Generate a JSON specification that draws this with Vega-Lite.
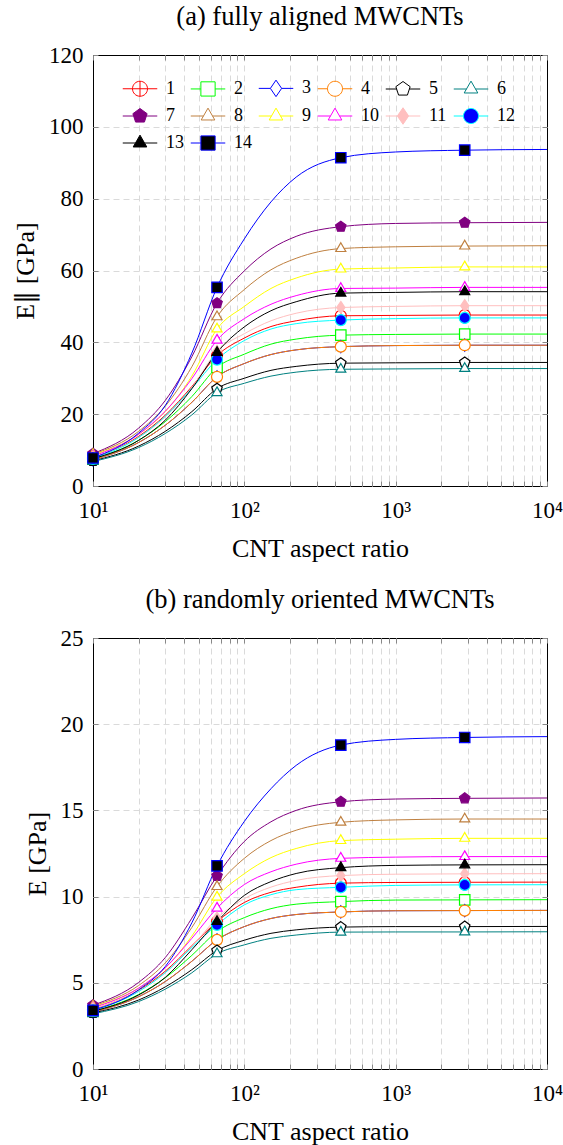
{
  "$schema": "https://vega.github.io/schema/vega-lite/v6.json",
  "background": "white",
  "padding": {"left": 12, "top": 3, "right": 14, "bottom": 0},
  "config": {
    "font": "Liberation Serif",
    "view": {"stroke": "black", "strokeWidth": 1},
    "axis": {"labelFont": "Liberation Serif", "titleFont": "Liberation Serif", "labelFontSize": 23, "titleFontSize": 26, "titleFontWeight": "normal", "labelColor": "black", "titleColor": "black", "domain": false, "tickColor": "#888888", "tickSize": -5, "gridDash": [6, 4], "gridColor": "#dadada", "gridWidth": 1},
    "title": {"font": "Liberation Serif", "fontSize": 26.5, "fontWeight": "normal", "color": "black"}
  },
  "datasets": {
    "a": [
      {"s":1,"x":10,"y":7.8},{"s":1,"x":20,"y":13.8},{"s":1,"x":30,"y":19.7},{"s":1,"x":45,"y":27.7},{"s":1,"x":66,"y":36.3},{"s":1,"x":100,"y":41.2},{"s":1,"x":150,"y":44.4},{"s":1,"x":220,"y":46.0},{"s":1,"x":434,"y":47.4},{"s":1,"x":1000,"y":47.5},{"s":1,"x":2860,"y":47.6},{"s":1,"x":10000,"y":47.6},
      {"s":2,"x":10,"y":7.5},{"s":2,"x":20,"y":12.7},{"s":2,"x":30,"y":17.9},{"s":2,"x":45,"y":24.9},{"s":2,"x":66,"y":33.0},{"s":2,"x":100,"y":36.7},{"s":2,"x":150,"y":39.5},{"s":2,"x":220,"y":40.9},{"s":2,"x":434,"y":42.0},{"s":2,"x":1000,"y":42.2},{"s":2,"x":2860,"y":42.3},{"s":2,"x":10000,"y":42.3},
      {"s":3,"x":10,"y":7.3},{"s":3,"x":20,"y":12.1},{"s":3,"x":30,"y":16.9},{"s":3,"x":45,"y":23.3},{"s":3,"x":66,"y":30.4},{"s":3,"x":100,"y":34.1},{"s":3,"x":150,"y":36.6},{"s":3,"x":220,"y":37.9},{"s":3,"x":434,"y":38.8},{"s":3,"x":1000,"y":39.1},{"s":3,"x":2860,"y":39.2},{"s":3,"x":10000,"y":39.2},
      {"s":4,"x":10,"y":7.3},{"s":4,"x":20,"y":12.1},{"s":4,"x":30,"y":16.9},{"s":4,"x":45,"y":23.3},{"s":4,"x":66,"y":30.4},{"s":4,"x":100,"y":34.1},{"s":4,"x":150,"y":36.6},{"s":4,"x":220,"y":37.9},{"s":4,"x":434,"y":38.8},{"s":4,"x":1000,"y":39.1},{"s":4,"x":2860,"y":39.2},{"s":4,"x":10000,"y":39.2},
      {"s":5,"x":10,"y":7.0},{"s":5,"x":20,"y":11.1},{"s":5,"x":30,"y":15.2},{"s":5,"x":45,"y":20.7},{"s":5,"x":66,"y":27.1},{"s":5,"x":100,"y":30.0},{"s":5,"x":150,"y":32.2},{"s":5,"x":220,"y":33.3},{"s":5,"x":434,"y":34.2},{"s":5,"x":1000,"y":34.3},{"s":5,"x":2860,"y":34.4},{"s":5,"x":10000,"y":34.4},
      {"s":6,"x":10,"y":6.8},{"s":6,"x":20,"y":10.7},{"s":6,"x":30,"y":14.6},{"s":6,"x":45,"y":19.8},{"s":6,"x":66,"y":26.0},{"s":6,"x":100,"y":28.6},{"s":6,"x":150,"y":30.6},{"s":6,"x":220,"y":31.7},{"s":6,"x":434,"y":32.5},{"s":6,"x":1000,"y":32.6},{"s":6,"x":2860,"y":32.7},{"s":6,"x":10000,"y":32.7},
      {"s":7,"x":10,"y":9.0},{"s":7,"x":20,"y":16.1},{"s":7,"x":30,"y":23.8},{"s":7,"x":45,"y":36.0},{"s":7,"x":66,"y":50.9},{"s":7,"x":100,"y":59.9},{"s":7,"x":150,"y":66.0},{"s":7,"x":220,"y":69.5},{"s":7,"x":434,"y":72.2},{"s":7,"x":1000,"y":73.1},{"s":7,"x":2860,"y":73.3},{"s":7,"x":10000,"y":73.4},
      {"s":8,"x":10,"y":8.8},{"s":8,"x":20,"y":15.2},{"s":8,"x":30,"y":22.2},{"s":8,"x":45,"y":33.2},{"s":8,"x":66,"y":47.1},{"s":8,"x":100,"y":54.7},{"s":8,"x":150,"y":60.2},{"s":8,"x":220,"y":63.4},{"s":8,"x":434,"y":66.1},{"s":8,"x":1000,"y":66.6},{"s":8,"x":2860,"y":66.8},{"s":8,"x":10000,"y":66.9},
      {"s":9,"x":10,"y":8.6},{"s":9,"x":20,"y":14.4},{"s":9,"x":30,"y":20.7},{"s":9,"x":45,"y":30.6},{"s":9,"x":66,"y":43.7},{"s":9,"x":100,"y":50.0},{"s":9,"x":150,"y":55.0},{"s":9,"x":220,"y":57.9},{"s":9,"x":434,"y":60.4},{"s":9,"x":1000,"y":60.7},{"s":9,"x":2860,"y":61.0},{"s":9,"x":10000,"y":61.0},
      {"s":10,"x":10,"y":8.3},{"s":10,"x":20,"y":14.4},{"s":10,"x":30,"y":20.8},{"s":10,"x":45,"y":29.9},{"s":10,"x":66,"y":40.6},{"s":10,"x":100,"y":46.6},{"s":10,"x":150,"y":50.6},{"s":10,"x":220,"y":53.0},{"s":10,"x":434,"y":55.0},{"s":10,"x":1000,"y":55.1},{"s":10,"x":2860,"y":55.3},{"s":10,"x":10000,"y":55.3},
      {"s":11,"x":10,"y":8.0},{"s":11,"x":20,"y":13.5},{"s":11,"x":30,"y":19.2},{"s":11,"x":45,"y":27.4},{"s":11,"x":66,"y":37.5},{"s":11,"x":100,"y":42.4},{"s":11,"x":150,"y":46.0},{"s":11,"x":220,"y":48.1},{"s":11,"x":434,"y":49.7},{"s":11,"x":1000,"y":50.0},{"s":11,"x":2860,"y":50.2},{"s":11,"x":10000,"y":50.2},
      {"s":12,"x":10,"y":7.6},{"s":12,"x":20,"y":13.5},{"s":12,"x":30,"y":19.4},{"s":12,"x":45,"y":27.2},{"s":12,"x":66,"y":35.2},{"s":12,"x":100,"y":40.5},{"s":12,"x":150,"y":43.7},{"s":12,"x":220,"y":45.2},{"s":12,"x":434,"y":46.2},{"s":12,"x":1000,"y":46.6},{"s":12,"x":2860,"y":46.8},{"s":12,"x":10000,"y":46.8},
      {"s":13,"x":10,"y":7.6},{"s":13,"x":20,"y":12.7},{"s":13,"x":30,"y":18.3},{"s":13,"x":45,"y":27.1},{"s":13,"x":66,"y":37.2},{"s":13,"x":100,"y":44.3},{"s":13,"x":150,"y":48.8},{"s":13,"x":220,"y":51.3},{"s":13,"x":434,"y":53.7},{"s":13,"x":1000,"y":53.9},{"s":13,"x":2860,"y":54.1},{"s":13,"x":10000,"y":54.1},
      {"s":14,"x":10,"y":7.8},{"s":14,"x":20,"y":14.7},{"s":14,"x":30,"y":22.4},{"s":14,"x":45,"y":37.0},{"s":14,"x":66,"y":55.3},{"s":14,"x":100,"y":68.8},{"s":14,"x":150,"y":79.1},{"s":14,"x":220,"y":86.0},{"s":14,"x":434,"y":91.4},{"s":14,"x":1000,"y":93.0},{"s":14,"x":2860,"y":93.5},{"s":14,"x":10000,"y":93.7}
    ],
    "b": [
      {"s":1,"x":10,"y":3.45},{"s":1,"x":20,"y":4.56},{"s":1,"x":30,"y":5.67},{"s":1,"x":45,"y":7.15},{"s":1,"x":66,"y":8.55},{"s":1,"x":100,"y":9.66},{"s":1,"x":150,"y":10.25},{"s":1,"x":220,"y":10.54},{"s":1,"x":434,"y":10.78},{"s":1,"x":1000,"y":10.82},{"s":1,"x":2860,"y":10.83},{"s":1,"x":10000,"y":10.84},
      {"s":2,"x":10,"y":3.35},{"s":2,"x":20,"y":4.32},{"s":2,"x":30,"y":5.29},{"s":2,"x":45,"y":6.59},{"s":2,"x":66,"y":7.97},{"s":2,"x":100,"y":8.78},{"s":2,"x":150,"y":9.30},{"s":2,"x":220,"y":9.56},{"s":2,"x":434,"y":9.71},{"s":2,"x":1000,"y":9.80},{"s":2,"x":2860,"y":9.81},{"s":2,"x":10000,"y":9.82},
      {"s":3,"x":10,"y":3.3},{"s":3,"x":20,"y":4.19},{"s":3,"x":30,"y":5.07},{"s":3,"x":45,"y":6.25},{"s":3,"x":66,"y":7.49},{"s":3,"x":100,"y":8.26},{"s":3,"x":150,"y":8.73},{"s":3,"x":220,"y":8.96},{"s":3,"x":434,"y":9.11},{"s":3,"x":1000,"y":9.18},{"s":3,"x":2860,"y":9.19},{"s":3,"x":10000,"y":9.2},
      {"s":4,"x":10,"y":3.3},{"s":4,"x":20,"y":4.19},{"s":4,"x":30,"y":5.07},{"s":4,"x":45,"y":6.25},{"s":4,"x":66,"y":7.49},{"s":4,"x":100,"y":8.26},{"s":4,"x":150,"y":8.73},{"s":4,"x":220,"y":8.96},{"s":4,"x":434,"y":9.11},{"s":4,"x":1000,"y":9.18},{"s":4,"x":2860,"y":9.19},{"s":4,"x":10000,"y":9.2},
      {"s":5,"x":10,"y":3.25},{"s":5,"x":20,"y":4.00},{"s":5,"x":30,"y":4.76},{"s":5,"x":45,"y":5.76},{"s":5,"x":66,"y":6.87},{"s":5,"x":100,"y":7.47},{"s":5,"x":150,"y":7.87},{"s":5,"x":220,"y":8.07},{"s":5,"x":434,"y":8.23},{"s":5,"x":1000,"y":8.26},{"s":5,"x":2860,"y":8.26},{"s":5,"x":10000,"y":8.27},
      {"s":6,"x":10,"y":3.2},{"s":6,"x":20,"y":3.91},{"s":6,"x":30,"y":4.63},{"s":6,"x":45,"y":5.58},{"s":6,"x":66,"y":6.68},{"s":6,"x":100,"y":7.20},{"s":6,"x":150,"y":7.58},{"s":6,"x":220,"y":7.77},{"s":6,"x":434,"y":7.94},{"s":6,"x":1000,"y":7.95},{"s":6,"x":2860,"y":7.95},{"s":6,"x":10000,"y":7.96},
      {"s":7,"x":10,"y":3.7},{"s":7,"x":20,"y":5.02},{"s":7,"x":30,"y":6.46},{"s":7,"x":45,"y":8.75},{"s":7,"x":66,"y":11.2},{"s":7,"x":100,"y":13.20},{"s":7,"x":150,"y":14.34},{"s":7,"x":220,"y":15.00},{"s":7,"x":434,"y":15.50},{"s":7,"x":1000,"y":15.66},{"s":7,"x":2860,"y":15.70},{"s":7,"x":10000,"y":15.72},
      {"s":8,"x":10,"y":3.65},{"s":8,"x":20,"y":4.84},{"s":8,"x":30,"y":6.15},{"s":8,"x":45,"y":8.21},{"s":8,"x":66,"y":10.58},{"s":8,"x":100,"y":12.22},{"s":8,"x":150,"y":13.25},{"s":8,"x":220,"y":13.85},{"s":8,"x":434,"y":14.31},{"s":8,"x":1000,"y":14.45},{"s":8,"x":2860,"y":14.50},{"s":8,"x":10000,"y":14.50},
      {"s":9,"x":10,"y":3.6},{"s":9,"x":20,"y":4.68},{"s":9,"x":30,"y":5.85},{"s":9,"x":45,"y":7.71},{"s":9,"x":66,"y":9.97},{"s":9,"x":100,"y":11.33},{"s":9,"x":150,"y":12.26},{"s":9,"x":220,"y":12.79},{"s":9,"x":434,"y":13.25},{"s":9,"x":1000,"y":13.33},{"s":9,"x":2860,"y":13.38},{"s":9,"x":10000,"y":13.38},
      {"s":10,"x":10,"y":3.55},{"s":10,"x":20,"y":4.69},{"s":10,"x":30,"y":5.87},{"s":10,"x":45,"y":7.58},{"s":10,"x":66,"y":9.33},{"s":10,"x":100,"y":10.70},{"s":10,"x":150,"y":11.44},{"s":10,"x":220,"y":11.88},{"s":10,"x":434,"y":12.22},{"s":10,"x":1000,"y":12.29},{"s":10,"x":2860,"y":12.32},{"s":10,"x":10000,"y":12.32},
      {"s":11,"x":10,"y":3.5},{"s":11,"x":20,"y":4.52},{"s":11,"x":30,"y":5.57},{"s":11,"x":45,"y":7.10},{"s":11,"x":66,"y":8.75},{"s":11,"x":100,"y":9.88},{"s":11,"x":150,"y":10.55},{"s":11,"x":220,"y":10.94},{"s":11,"x":434,"y":11.22},{"s":11,"x":1000,"y":11.30},{"s":11,"x":2860,"y":11.32},{"s":11,"x":10000,"y":11.33},
      {"s":12,"x":10,"y":3.4},{"s":12,"x":20,"y":4.49},{"s":12,"x":30,"y":5.59},{"s":12,"x":45,"y":7.05},{"s":12,"x":66,"y":8.36},{"s":12,"x":100,"y":9.52},{"s":12,"x":150,"y":10.11},{"s":12,"x":220,"y":10.40},{"s":12,"x":434,"y":10.54},{"s":12,"x":1000,"y":10.65},{"s":12,"x":2860,"y":10.68},{"s":12,"x":10000,"y":10.69},
      {"s":13,"x":10,"y":3.35},{"s":13,"x":20,"y":4.29},{"s":13,"x":30,"y":5.31},{"s":13,"x":45,"y":6.92},{"s":13,"x":66,"y":8.55},{"s":13,"x":100,"y":10.07},{"s":13,"x":150,"y":10.87},{"s":13,"x":220,"y":11.34},{"s":13,"x":434,"y":11.68},{"s":13,"x":1000,"y":11.81},{"s":13,"x":2860,"y":11.84},{"s":13,"x":10000,"y":11.85},
      {"s":14,"x":10,"y":3.4},{"s":14,"x":20,"y":4.59},{"s":14,"x":30,"y":5.94},{"s":14,"x":45,"y":8.48},{"s":14,"x":66,"y":11.78},{"s":14,"x":100,"y":14.36},{"s":14,"x":150,"y":16.26},{"s":14,"x":220,"y":17.61},{"s":14,"x":434,"y":18.79},{"s":14,"x":1000,"y":19.12},{"s":14,"x":2860,"y":19.23},{"s":14,"x":10000,"y":19.28}
    ]
  },
  "vconcat": [
    {
      "width": 454,
      "height": 431,
      "title": {"text": "(a) fully aligned MWCNTs", "offset": 14},
      "data": {"name": "a"},
      "resolve": {"scale": {"stroke": "independent", "fill": "independent", "shape": "independent"}, "axis": {"x": "independent", "y": "independent"}},
      "layer": [
        {
          "mark": {"type": "line", "interpolate": "monotone", "strokeWidth": 1, "clip": true},
          "encoding": {
            "x": {"field": "x", "type": "quantitative", "scale": {"type": "log", "domain": [10, 10000], "nice": false},
              "axis": {"orient": "bottom", "values": [10,20,30,40,50,60,70,80,90,100,200,300,400,500,600,700,800,900,1000,2000,3000,4000,5000,6000,7000,8000,9000,10000], "labelExpr": "datum.value==10?'10\u00b9':datum.value==100?'10\u00b2':datum.value==1000?'10\u00b3':datum.value==10000?'10\u2074':''", "labelFlush": false, "labelOverlap": false, "labelPadding": 18, "title": "CNT aspect ratio", "titlePadding": 13, "grid": true, "gridOpacity": {"condition": {"test": "datum.value==10||datum.value==10000", "value": 0}, "value": 1}}},
            "y": {"field": "y", "type": "quantitative", "scale": {"domain": [0, 120], "nice": false},
              "axis": {"orient": "left", "values": [0,20,40,60,80,100,120], "labelPadding": 15, "title": "E\u2225 [GPa]", "titlePadding": 10, "grid": true, "gridOpacity": {"condition": {"test": "datum.value==0||datum.value==120", "value": 0}, "value": 1}}},
            "stroke": {"field": "s", "type": "nominal", "legend": null,
              "scale": {"domain": [1,2,3,4,5,6,7,8,9,10,11,12,13,14], "range": ["#ff0000","#00ff00","#0000ff","#ff8000","#000000","#008080","#800080","#bf8040","#ffff00","#ff00ff","#ffbfbf","#00ffff","#000000","#0000ff"]}},
            "detail": {"field": "s", "type": "nominal"}
          }
        },
        {
          "transform": [{"filter": {"field": "x", "oneOf": [10, 66, 434, 2860]}}],
          "mark": {"type": "point", "opacity": 1, "strokeWidth": 1.2, "size": 121},
          "encoding": {
            "x": {"field": "x", "type": "quantitative", "scale": {"type": "log", "domain": [10, 10000], "nice": false},
              "axis": {"orient": "top", "values": [10,20,30,40,50,60,70,80,90,100,200,300,400,500,600,700,800,900,1000,2000,3000,4000,5000,6000,7000,8000,9000,10000], "labels": false, "title": null, "grid": false}},
            "y": {"field": "y", "type": "quantitative", "scale": {"domain": [0, 120], "nice": false},
              "axis": {"orient": "right", "values": [0,20,40,60,80,100,120], "labels": false, "title": null, "grid": false}},
            "stroke": {"field": "s", "type": "nominal", "legend": null,
              "scale": {"domain": [1,2,3,4,5,6,7,8,9,10,11,12,13,14], "range": ["#ff0000","#00ff00","#0000ff","#ff8000","#000000","#008080","#800080","#bf8040","#ffff00","#ff00ff","#ffbfbf","#00ffff","#000000","#0000ff"]}},
            "fill": {"field": "s", "type": "nominal", "legend": null,
              "scale": {"domain": [1,2,3,4,5,6,7,8,9,10,11,12,13,14], "range": ["#ffffff","#ffffff","#ffffff","#ffffff","#ffffff","#ffffff","#800080","#ffffff","#ffffff","#ffffff","#ffbfbf","#0000ff","#000000","#000000"]}},
            "shape": {"field": "s", "type": "nominal", "legend": null,
              "scale": {"domain": [1,2,3,4,5,6,7,8,9,10,11,12,13,14], "range": [
                "M1,0A1,1,0,1,1,-1,0A1,1,0,1,1,1,0ZM-1,0H1M0,-1V1",
                "M-0.95,-0.95H0.95V0.95H-0.95Z",
                "M0,-1.1L0.75,0L0,1.1L-0.75,0Z",
                "M1,0A1,1,0,1,1,-1,0A1,1,0,1,1,1,0Z",
                "M0,-1L0.951,-0.309L0.588,0.809L-0.588,0.809L-0.951,-0.309Z",
                "M0,-1.05L0.91,0.53L-0.91,0.53Z",
                "M0,-1L0.951,-0.309L0.588,0.809L-0.588,0.809L-0.951,-0.309Z",
                "M0,-1.05L0.91,0.53L-0.91,0.53Z",
                "M0,-1.05L0.91,0.53L-0.91,0.53Z",
                "M0,-1.05L0.91,0.53L-0.91,0.53Z",
                "M0,-1.1L0.75,0L0,1.1L-0.75,0Z",
                "M1,0A1,1,0,1,1,-1,0A1,1,0,1,1,1,0Z",
                "M0,-1.05L0.91,0.53L-0.91,0.53Z",
                "M-0.95,-0.95H0.95V0.95H-0.95Z"]}}
          }
        },
        {
          "transform": [{"filter": "datum.s < 0"}],
          "mark": {"type": "point", "opacity": 1, "strokeWidth": 1},
          "encoding": {
            "x": {"field": "x", "type": "quantitative", "scale": {"type": "log", "domain": [10, 10000], "nice": false}, "axis": null},
            "y": {"field": "y", "type": "quantitative", "scale": {"domain": [0, 120], "nice": false}, "axis": null},
            "stroke": {"field": "s", "type": "nominal",
              "scale": {"domain": [1,2,3,4,5,6,7,8,9,10,11,12,13,14], "range": ["#ff0000","#00ff00","#0000ff","#ff8000","#000000","#008080","#800080","#bf8040","#ffff00","#ff00ff","#ffbfbf","#00ffff","#000000","#0000ff"]},
              "legend": {"orient": "none", "direction": "horizontal", "legendX": 38, "legendY": 24, "columns": 6, "title": null, "padding": 0, "symbolSize": 225, "symbolStrokeWidth": 1, "labelFont": "Liberation Serif", "labelFontSize": 18, "labelColor": "black", "labelOffset": 17, "columnPadding": 4, "rowPadding": 6, "gridAlign": "each"}},
            "fill": {"field": "s", "type": "nominal",
              "scale": {"domain": [1,2,3,4,5,6,7,8,9,10,11,12,13,14], "range": ["#ffffff","#ffffff","#ffffff","#ffffff","#ffffff","#ffffff","#800080","#ffffff","#ffffff","#ffffff","#ffbfbf","#0000ff","#000000","#000000"]},
              "legend": {"orient": "none", "direction": "horizontal", "legendX": 38, "legendY": 24, "columns": 6, "title": null, "padding": 0, "symbolSize": 225, "symbolStrokeWidth": 1, "labelFont": "Liberation Serif", "labelFontSize": 18, "labelColor": "black", "labelOffset": 17, "columnPadding": 4, "rowPadding": 6, "gridAlign": "each"}},
            "shape": {"field": "s", "type": "nominal",
              "scale": {"domain": [1,2,3,4,5,6,7,8,9,10,11,12,13,14], "range": [
                "M-2.3,0H-1M1,0H2.3M1,0A1,1,0,1,1,-1,0A1,1,0,1,1,1,0ZM-1,0H1M0,-1V1",
                "M-2.3,0H-0.95M0.95,0H2.3M-0.95,-0.95H0.95V0.95H-0.95Z",
                "M-2.3,0H-0.75M0.75,0H2.3M0,-1.1L0.75,0L0,1.1L-0.75,0Z",
                "M-2.3,0H-1M1,0H2.3M1,0A1,1,0,1,1,-1,0A1,1,0,1,1,1,0Z",
                "M-2.3,0H-0.85M0.85,0H2.3M0,-1L0.951,-0.309L0.588,0.809L-0.588,0.809L-0.951,-0.309Z",
                "M-2.3,0H-0.6M0.6,0H2.3M0,-1.05L0.91,0.53L-0.91,0.53Z",
                "M-2.3,0H-0.85M0.85,0H2.3M0,-1L0.951,-0.309L0.588,0.809L-0.588,0.809L-0.951,-0.309Z",
                "M-2.3,0H-0.6M0.6,0H2.3M0,-1.05L0.91,0.53L-0.91,0.53Z",
                "M-2.3,0H-0.6M0.6,0H2.3M0,-1.05L0.91,0.53L-0.91,0.53Z",
                "M-2.3,0H-0.6M0.6,0H2.3M0,-1.05L0.91,0.53L-0.91,0.53Z",
                "M-2.3,0H-0.75M0.75,0H2.3M0,-1.1L0.75,0L0,1.1L-0.75,0Z",
                "M-2.3,0H-1M1,0H2.3M1,0A1,1,0,1,1,-1,0A1,1,0,1,1,1,0Z",
                "M-2.3,0H-0.6M0.6,0H2.3M0,-1.05L0.91,0.53L-0.91,0.53Z",
                "M-2.3,0H-0.95M0.95,0H2.3M-0.95,-0.95H0.95V0.95H-0.95Z"]},
              "legend": {"orient": "none", "direction": "horizontal", "legendX": 38, "legendY": 24, "columns": 6, "title": null, "padding": 0, "symbolSize": 225, "symbolStrokeWidth": 1, "labelFont": "Liberation Serif", "labelFontSize": 18, "labelColor": "black", "labelOffset": 17, "columnPadding": 4, "rowPadding": 6, "gridAlign": "each"}}
          }
        }
      ]
    },
    {
      "width": 454,
      "height": 431,
      "title": {"text": "(b) randomly oriented MWCNTs", "offset": 14},
      "data": {"name": "b"},
      "resolve": {"scale": {"stroke": "independent", "fill": "independent", "shape": "independent"}, "axis": {"x": "independent", "y": "independent"}},
      "layer": [
        {
          "mark": {"type": "line", "interpolate": "monotone", "strokeWidth": 1, "clip": true},
          "encoding": {
            "x": {"field": "x", "type": "quantitative", "scale": {"type": "log", "domain": [10, 10000], "nice": false},
              "axis": {"orient": "bottom", "values": [10,20,30,40,50,60,70,80,90,100,200,300,400,500,600,700,800,900,1000,2000,3000,4000,5000,6000,7000,8000,9000,10000], "labelExpr": "datum.value==10?'10\u00b9':datum.value==100?'10\u00b2':datum.value==1000?'10\u00b3':datum.value==10000?'10\u2074':''", "labelFlush": false, "labelOverlap": false, "labelPadding": 18, "title": "CNT aspect ratio", "titlePadding": 13, "grid": true, "gridOpacity": {"condition": {"test": "datum.value==10||datum.value==10000", "value": 0}, "value": 1}}},
            "y": {"field": "y", "type": "quantitative", "scale": {"domain": [0, 25], "nice": false},
              "axis": {"orient": "left", "values": [0,5,10,15,20,25], "labelPadding": 15, "title": "E [GPa]", "titlePadding": 10, "grid": true, "gridOpacity": {"condition": {"test": "datum.value==0||datum.value==25", "value": 0}, "value": 1}}},
            "stroke": {"field": "s", "type": "nominal", "legend": null,
              "scale": {"domain": [1,2,3,4,5,6,7,8,9,10,11,12,13,14], "range": ["#ff0000","#00ff00","#0000ff","#ff8000","#000000","#008080","#800080","#bf8040","#ffff00","#ff00ff","#ffbfbf","#00ffff","#000000","#0000ff"]}},
            "detail": {"field": "s", "type": "nominal"}
          }
        },
        {
          "transform": [{"filter": {"field": "x", "oneOf": [10, 66, 434, 2860]}}],
          "mark": {"type": "point", "opacity": 1, "strokeWidth": 1.2, "size": 121},
          "encoding": {
            "x": {"field": "x", "type": "quantitative", "scale": {"type": "log", "domain": [10, 10000], "nice": false},
              "axis": {"orient": "top", "values": [10,20,30,40,50,60,70,80,90,100,200,300,400,500,600,700,800,900,1000,2000,3000,4000,5000,6000,7000,8000,9000,10000], "labels": false, "title": null, "grid": false}},
            "y": {"field": "y", "type": "quantitative", "scale": {"domain": [0, 25], "nice": false},
              "axis": {"orient": "right", "values": [0,5,10,15,20,25], "labels": false, "title": null, "grid": false}},
            "stroke": {"field": "s", "type": "nominal", "legend": null,
              "scale": {"domain": [1,2,3,4,5,6,7,8,9,10,11,12,13,14], "range": ["#ff0000","#00ff00","#0000ff","#ff8000","#000000","#008080","#800080","#bf8040","#ffff00","#ff00ff","#ffbfbf","#00ffff","#000000","#0000ff"]}},
            "fill": {"field": "s", "type": "nominal", "legend": null,
              "scale": {"domain": [1,2,3,4,5,6,7,8,9,10,11,12,13,14], "range": ["#ffffff","#ffffff","#ffffff","#ffffff","#ffffff","#ffffff","#800080","#ffffff","#ffffff","#ffffff","#ffbfbf","#0000ff","#000000","#000000"]}},
            "shape": {"field": "s", "type": "nominal", "legend": null,
              "scale": {"domain": [1,2,3,4,5,6,7,8,9,10,11,12,13,14], "range": [
                "M1,0A1,1,0,1,1,-1,0A1,1,0,1,1,1,0ZM-1,0H1M0,-1V1",
                "M-0.95,-0.95H0.95V0.95H-0.95Z",
                "M0,-1.1L0.75,0L0,1.1L-0.75,0Z",
                "M1,0A1,1,0,1,1,-1,0A1,1,0,1,1,1,0Z",
                "M0,-1L0.951,-0.309L0.588,0.809L-0.588,0.809L-0.951,-0.309Z",
                "M0,-1.05L0.91,0.53L-0.91,0.53Z",
                "M0,-1L0.951,-0.309L0.588,0.809L-0.588,0.809L-0.951,-0.309Z",
                "M0,-1.05L0.91,0.53L-0.91,0.53Z",
                "M0,-1.05L0.91,0.53L-0.91,0.53Z",
                "M0,-1.05L0.91,0.53L-0.91,0.53Z",
                "M0,-1.1L0.75,0L0,1.1L-0.75,0Z",
                "M1,0A1,1,0,1,1,-1,0A1,1,0,1,1,1,0Z",
                "M0,-1.05L0.91,0.53L-0.91,0.53Z",
                "M-0.95,-0.95H0.95V0.95H-0.95Z"]}}
          }
        }
      ]
    }
  ],
  "spacing": 24
}
